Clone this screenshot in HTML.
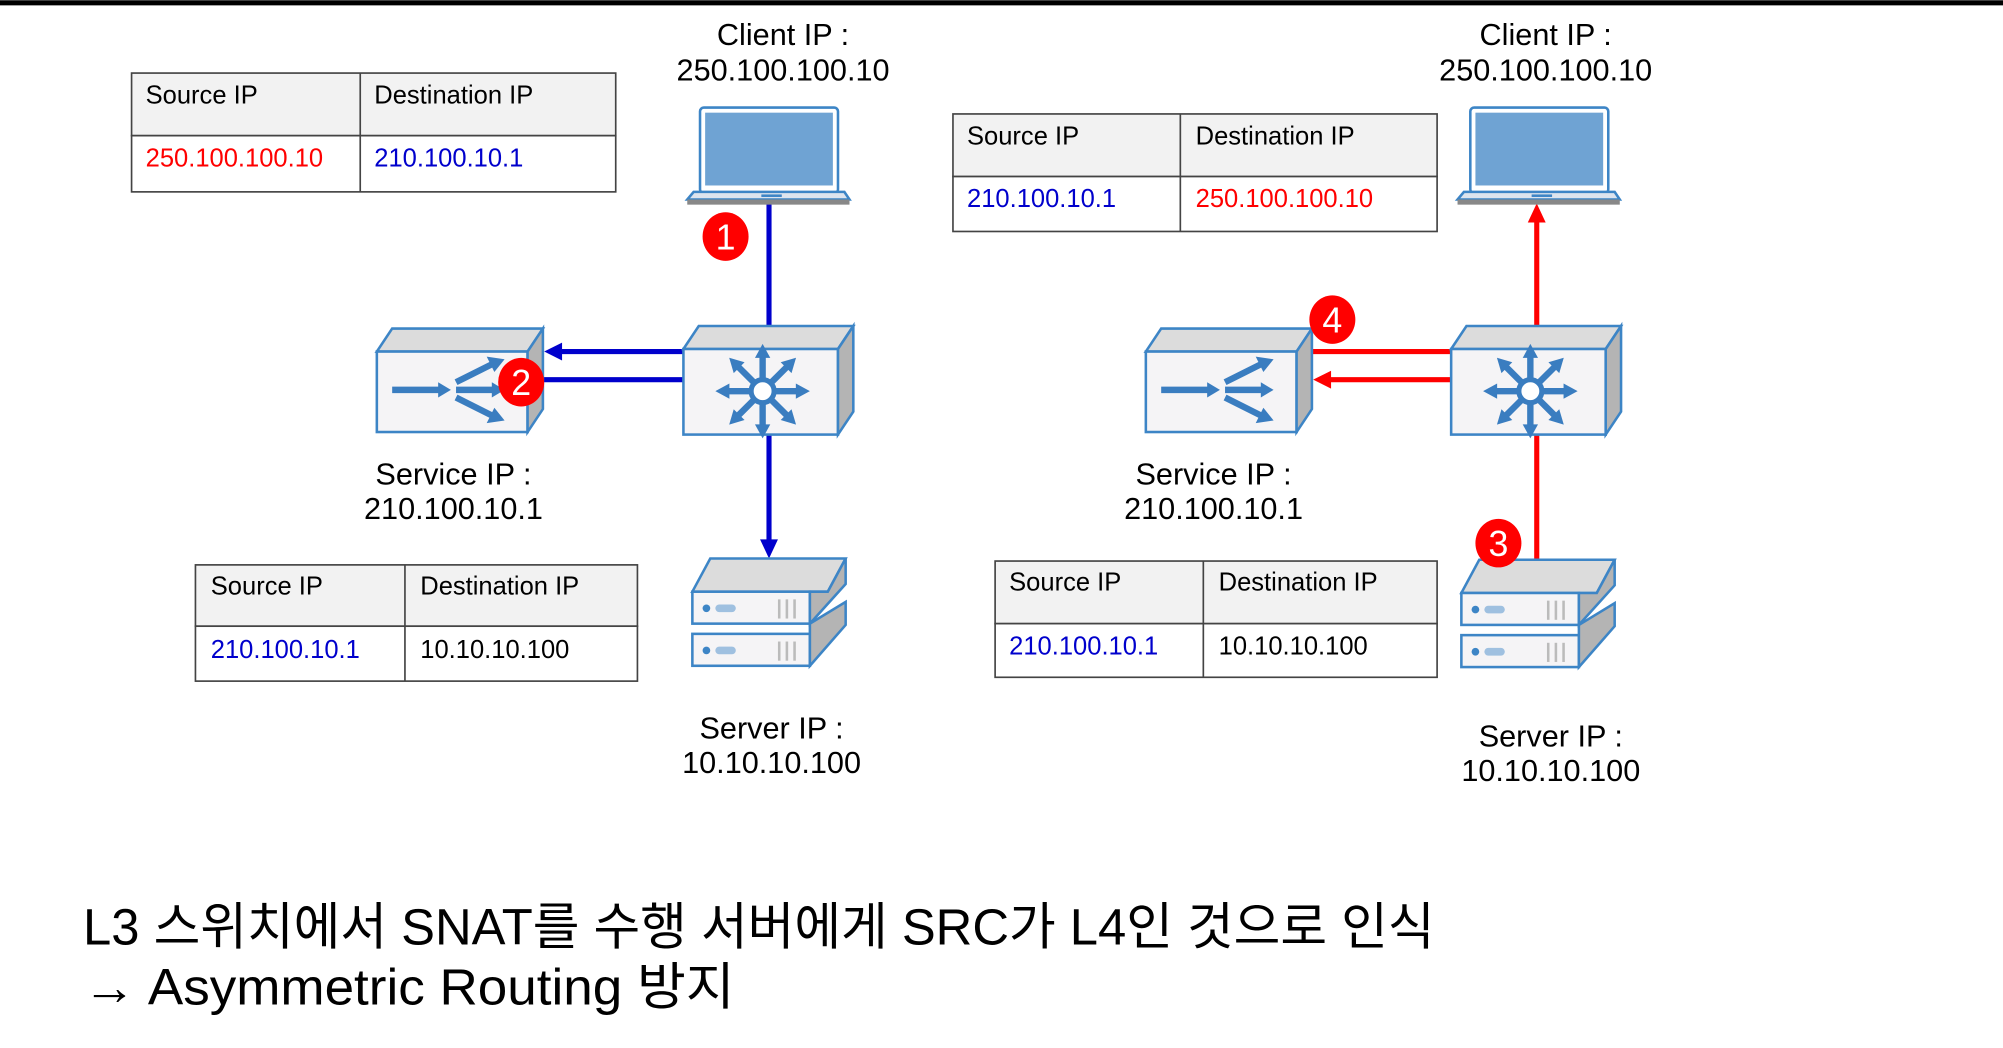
<!DOCTYPE html>
<html><head><meta charset="utf-8"><style>
html,body{margin:0;padding:0;background:#fff;}
svg{display:block;}
text{font-family:"Liberation Sans","Noto Sans CJK KR",sans-serif;}
</style></head><body>
<svg width="2003" height="1048" viewBox="0 0 1568 820" xmlns="http://www.w3.org/2000/svg">
<defs>
<g id="l4">
 <polygon points="0,18 12,0 130,0 118,18" fill="#dcdcdc" stroke="#3d85c6" stroke-width="2"/>
 <rect x="0" y="18" width="118" height="63" fill="#f5f4f6" stroke="#3d85c6" stroke-width="2"/>
 <polygon points="118,18 130,0 130,63 118,81" fill="#b4b4b4" stroke="#3d85c6" stroke-width="2"/>
 <g stroke="#3a7dc0" stroke-width="5" fill="#3a7dc0">
  <line x1="12" y1="48" x2="50" y2="48"/><polygon points="48,42 58,48 48,54" stroke="none"/>
  <line x1="62" y1="48" x2="92" y2="48"/><polygon points="90,42 100,48 90,54" stroke="none"/>
  <line x1="62" y1="42" x2="90" y2="28"/><polygon points="86,22 100,24 92,34" stroke="none"/>
  <line x1="62" y1="54" x2="90" y2="68"/><polygon points="86,74 100,72 92,62" stroke="none"/>
 </g>
</g>
<g id="sw">
 <polygon points="0,18 12,0 133,0 121,18" fill="#dcdcdc" stroke="#3d85c6" stroke-width="2"/>
 <rect x="0" y="18" width="121" height="67" fill="#f5f4f6" stroke="#3d85c6" stroke-width="2"/>
 <polygon points="121,18 133,0 133,67 121,85" fill="#b4b4b4" stroke="#3d85c6" stroke-width="2"/>
 <g stroke="#3a7dc0" stroke-width="5" fill="#3a7dc0" transform="translate(62,51)">
  <g id="ray"><line x1="0" y1="-8" x2="0" y2="-28"/><polygon points="-6,-26 0,-37 6,-26" stroke="none"/></g>
  <use href="#ray" transform="rotate(45)"/><use href="#ray" transform="rotate(90)"/><use href="#ray" transform="rotate(135)"/>
  <use href="#ray" transform="rotate(180)"/><use href="#ray" transform="rotate(225)"/><use href="#ray" transform="rotate(270)"/><use href="#ray" transform="rotate(315)"/>
  <circle r="9" fill="#fff" stroke-width="4"/>
 </g>
</g>
<g id="lap">
 <rect x="10" y="1" width="108" height="67" rx="3" fill="#fff" stroke="#3d85c6" stroke-width="2"/>
 <rect x="14" y="5" width="100" height="57" fill="#6fa3d3"/>
 <polygon points="5,67 123,67 127,73 0,73" fill="#dde4ee" stroke="#3d85c6" stroke-width="2"/>
 <rect x="0" y="73" width="127" height="4" fill="#888"/>
 <rect x="58" y="69" width="16" height="2" fill="#3d85c6"/>
</g>
<g id="srv">
 <polygon points="0,26 14,0 120,0 106,26" fill="#dcdcdc" stroke="#3d85c6" stroke-width="2"/>
 <rect x="0" y="26" width="92" height="25" fill="#f5f4f6" stroke="#3d85c6" stroke-width="2"/>
 <polygon points="92,26 106,26 120,0 120,20 92,51" fill="#b4b4b4" stroke="#3d85c6" stroke-width="2"/>
 <rect x="0" y="59" width="92" height="25" fill="#f5f4f6" stroke="#3d85c6" stroke-width="2"/>
 <polygon points="92,59 92,51 120,34 120,52 92,84" fill="#b4b4b4" stroke="#3d85c6" stroke-width="2"/>
 <circle cx="11" cy="39" r="3" fill="#3d85c6"/><rect x="18" y="36" width="16" height="6" rx="3" fill="#9fc0e0"/>
 <circle cx="11" cy="72" r="3" fill="#3d85c6"/><rect x="18" y="69" width="16" height="6" rx="3" fill="#9fc0e0"/>
 <g stroke="#bbb" stroke-width="2"><line x1="68" y1="32" x2="68" y2="47"/><line x1="74" y1="32" x2="74" y2="47"/><line x1="80" y1="32" x2="80" y2="47"/>
 <line x1="68" y1="65" x2="68" y2="80"/><line x1="74" y1="65" x2="74" y2="80"/><line x1="80" y1="65" x2="80" y2="80"/></g>
</g>
</defs>

<rect x="0" y="0" width="1568" height="4" fill="#000"/>

<!-- LEFT -->
<g font-size="24" fill="#000" text-anchor="middle">
 <text x="613" y="35">Client IP :</text><text x="613" y="63">250.100.100.10</text>
 <text x="355" y="379">Service IP :</text><text x="355" y="406">210.100.10.1</text>
 <text x="604" y="578">Server IP :</text><text x="604" y="605">10.10.10.100</text>
 <text x="1210" y="35">Client IP :</text><text x="1210" y="63">250.100.100.10</text>
 <text x="950" y="379">Service IP :</text><text x="950" y="406">210.100.10.1</text>
 <text x="1214" y="584">Server IP :</text><text x="1214" y="611">10.10.10.100</text>
</g>

<!-- tables -->
<g stroke="#444" stroke-width="1.3" font-size="20">
 <rect x="103" y="57" width="379" height="49" fill="#f2f2f2"/><rect x="103" y="106" width="379" height="44" fill="#fff"/><line x1="282" y1="57" x2="282" y2="150"/>
 <rect x="153" y="442" width="346" height="48" fill="#f2f2f2"/><rect x="153" y="490" width="346" height="43" fill="#fff"/><line x1="317" y1="442" x2="317" y2="533"/>
 <rect x="746" y="89" width="379" height="49" fill="#f2f2f2"/><rect x="746" y="138" width="379" height="43" fill="#fff"/><line x1="924" y1="89" x2="924" y2="181"/>
 <rect x="779" y="439" width="346" height="49" fill="#f2f2f2"/><rect x="779" y="488" width="346" height="42" fill="#fff"/><line x1="942" y1="439" x2="942" y2="530"/>
</g>
<g font-size="20" stroke="none">
 <text x="114" y="81">Source IP</text><text x="293" y="81">Destination IP</text>
 <text x="114" y="130" fill="#f00">250.100.100.10</text><text x="293" y="130" fill="#00c">210.100.10.1</text>
 <text x="165" y="465">Source IP</text><text x="329" y="465">Destination IP</text>
 <text x="165" y="515" fill="#00c">210.100.10.1</text><text x="329" y="515">10.10.10.100</text>
 <text x="757" y="113">Source IP</text><text x="936" y="113">Destination IP</text>
 <text x="757" y="162" fill="#00c">210.100.10.1</text><text x="936" y="162" fill="#f00">250.100.100.10</text>
 <text x="790" y="462">Source IP</text><text x="954" y="462">Destination IP</text>
 <text x="790" y="512" fill="#00c">210.100.10.1</text><text x="954" y="512">10.10.10.100</text>
</g>

<!-- left connectors -->
<g stroke="#0000cc" stroke-width="4" fill="#0000cc">
 <line x1="602" y1="158" x2="602" y2="256"/>
 <line x1="535" y1="275" x2="438" y2="275"/><polygon points="426,275 440,268 440,282" stroke="none"/>
 <line x1="535" y1="297" x2="420" y2="297"/>
 <line x1="602" y1="340" x2="602" y2="424"/><polygon points="602,437 595,422 609,422" stroke="none"/>
</g>
<use href="#lap" x="538" y="83"/>
<use href="#l4" x="295" y="257"/>
<use href="#sw" x="535" y="255"/>
<use href="#srv" x="542" y="437"/>

<!-- right connectors -->
<g stroke="#f00" stroke-width="4" fill="#f00">
 <line x1="1203" y1="256" x2="1203" y2="172"/><polygon points="1203,159 1196,174 1210,174" stroke="none"/>
 <line x1="1136" y1="275" x2="1024" y2="275"/>
 <line x1="1136" y1="297" x2="1040" y2="297"/><polygon points="1028,297 1042,290 1042,304" stroke="none"/>
 <line x1="1203" y1="340" x2="1203" y2="437"/>
</g>
<use href="#lap" x="1141" y="83"/>
<use href="#l4" x="897" y="257"/>
<use href="#sw" x="1136" y="255"/>
<use href="#srv" x="1144" y="438"/>

<!-- badges -->
<g fill="#f00"><ellipse cx="568" cy="185" rx="18" ry="19"/><ellipse cx="408" cy="299" rx="18" ry="19"/>
<ellipse cx="1173" cy="425" rx="18" ry="19"/><ellipse cx="1043" cy="250" rx="18" ry="19"/></g>
<g fill="#fff" font-size="28" text-anchor="middle">
 <text x="568" y="195">1</text><text x="408" y="309">2</text><text x="1173" y="435">3</text><text x="1043" y="260">4</text>
</g>

<!-- bottom text -->
<text x="65" y="739" font-size="40" textLength="1058" lengthAdjust="spacingAndGlyphs">L3 스위치에서 SNAT를 수행 서버에게 SRC가 L4인 것으로 인식</text>
<text x="65" y="786" font-size="40" textLength="510" lengthAdjust="spacingAndGlyphs">→ Asymmetric Routing 방지</text>
</svg>
</body></html>
